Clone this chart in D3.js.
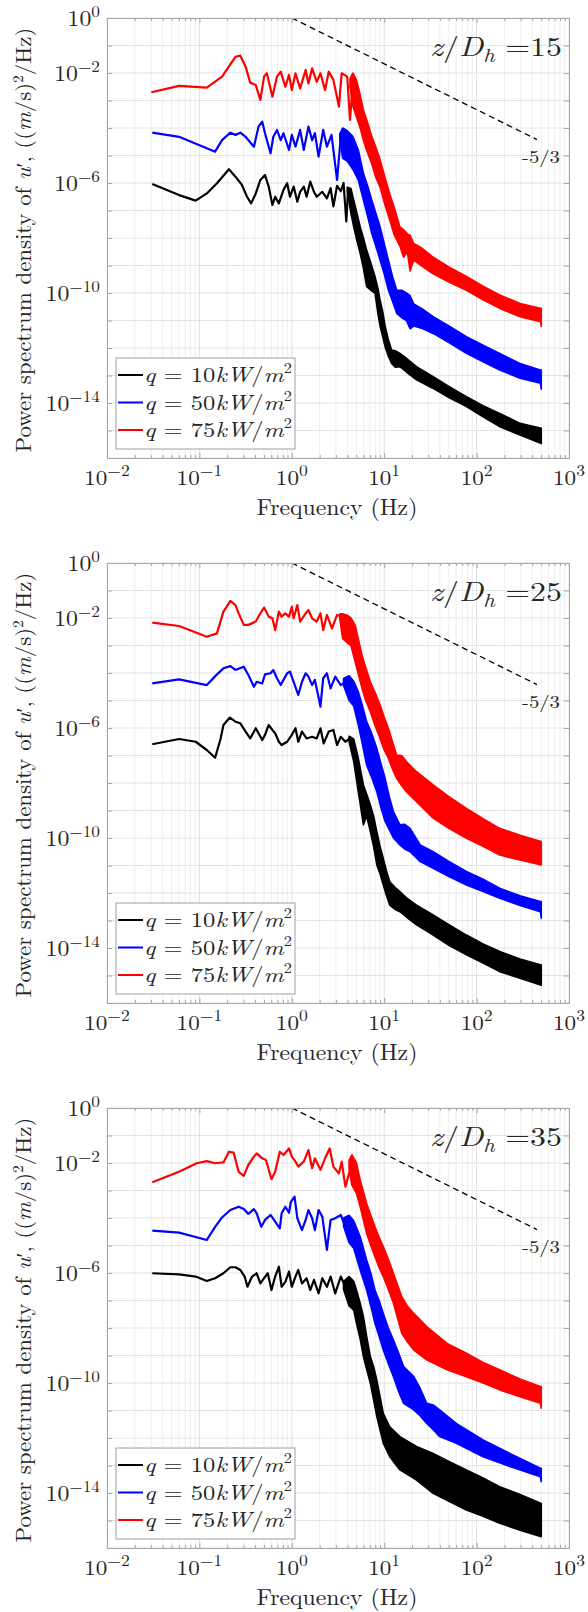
<!DOCTYPE html>
<html><head><meta charset="utf-8">
<script src="https://cdn.jsdelivr.net/npm/d3@7"></script>
<style>
body{margin:0;background:#fff}
text{font-family:"Latin Modern Roman","CMU Serif","Liberation Serif","DejaVu Serif",serif;fill:#262626}
</style>
</head><body>
<svg id="c" width="588" height="1612"></svg>
<script>
// ---- values: [log10 f (Hz), log10 PSD] for the low-frequency lines,
// ---- [log10 f, log10 upper PSD, log10 lower PSD] for the dense high-frequency bands
const xTickExp = [-2, -1, 0, 1, 2, 3];
const yTickExp = [0, -2, -6, -10, -14];
const panelLabels = ["15", "25", "35"];
const seriesLabels = ["10", "50", "75"];
const seriesColors = ["#000000", "#0000ff", "#ff0000"];
const slopeLine = [[1, 1], [450, 3.8e-5]];

// z/Dh = 15
const lineK15 = [[-1.51,-6.04],[-1.22,-6.44],[-1.04,-6.64],[-0.92,-6.38],[-0.81,-6.01],[-0.68,-5.50],[-0.61,-5.77],[-0.54,-6.07],[-0.485,-6.50],[-0.44,-6.74],[-0.39,-6.38],[-0.34,-5.89],[-0.29,-5.71],[-0.25,-6.13],[-0.21,-6.80],[-0.18,-6.50],[-0.14,-6.74],[-0.09,-6.25],[-0.05,-6.01],[-0.02,-6.50],[0.02,-6.13],[0.06,-6.68],[0.09,-6.32],[0.13,-6.13],[0.16,-6.50],[0.20,-5.95],[0.24,-6.32],[0.27,-6.50],[0.33,-6.32],[0.38,-6.56],[0.42,-6.19],[0.45,-6.85],[0.49,-6.1],[0.53,-6.3],[0.56,-6.0],[0.59,-7.4],[0.61,-6.2]];
const bandK15 = [[0.60,-6.15,-6.3],[0.64,-6.2,-7.1],[0.67,-6.62,-7.59],[0.705,-7.1,-8.1],[0.74,-7.59,-8.56],[0.775,-8.0,-9.1],[0.81,-8.44,-9.77],[0.855,-8.9,-9.9],[0.90,-9.4,-10.0],[0.93,-9.8,-10.7],[0.955,-10.25,-11.2],[0.985,-10.7,-11.6],[1.01,-11.2,-11.95],[1.045,-11.7,-12.3],[1.08,-12.07,-12.56],[1.12,-12.1,-12.7],[1.17,-12.2,-12.68],[1.25,-12.4,-12.9],[1.35,-12.68,-13.16],[1.53,-13.04,-13.47],[1.7,-13.4,-13.8],[1.89,-13.77,-14.13],[2.07,-14.1,-14.5],[2.25,-14.38,-14.86],[2.47,-14.74,-15.16],[2.70,-14.92,-15.47]];
const lineB15 = [[-1.51,-4.17],[-1.22,-4.32],[-0.83,-4.86],[-0.755,-4.44],[-0.665,-4.17],[-0.61,-4.25],[-0.557,-4.17],[-0.50,-4.32],[-0.41,-4.68],[-0.36,-3.95],[-0.32,-3.77],[-0.29,-4.19],[-0.23,-4.92],[-0.20,-4.32],[-0.16,-4.07],[-0.12,-4.44],[-0.09,-4.19],[-0.03,-4.80],[0.00,-4.25],[0.04,-4.68],[0.09,-4.07],[0.13,-4.80],[0.18,-3.95],[0.22,-4.44],[0.25,-4.19],[0.29,-5.04],[0.34,-4.07],[0.38,-4.68],[0.43,-4.25],[0.49,-5.89],[0.53,-4.32]];
const bandB15 = [[0.52,-4.2,-4.4],[0.55,-4.0,-5.1],[0.6,-4.1,-5.2],[0.66,-4.3,-5.5],[0.72,-4.8,-5.9],[0.775,-5.65,-6.62],[0.82,-6.1,-7.2],[0.865,-6.62,-7.83],[0.91,-7.1,-8.3],[0.955,-7.59,-8.8],[1.0,-8.2,-9.3],[1.045,-8.8,-9.89],[1.09,-9.4,-10.3],[1.135,-9.89,-10.74],[1.19,-9.9,-10.9],[1.24,-10.0,-11.0],[1.28,-10.1,-11.3],[1.32,-10.4,-11.2],[1.42,-10.6,-11.3],[1.53,-10.86,-11.47],[1.7,-11.2,-11.8],[1.89,-11.59,-12.19],[2.07,-11.9,-12.5],[2.25,-12.2,-12.8],[2.47,-12.56,-13.1],[2.69,-12.8,-13.28],[2.70,-12.8,-13.5]];
const lineR15 = [[-1.52,-2.70],[-1.22,-2.47],[-0.92,-2.53],[-0.755,-2.13],[-0.61,-1.41],[-0.557,-1.37],[-0.50,-1.77],[-0.45,-2.35],[-0.39,-2.44],[-0.34,-2.98],[-0.30,-2.13],[-0.27,-2.01],[-0.21,-2.86],[-0.16,-2.13],[-0.12,-1.95],[-0.07,-2.50],[-0.03,-2.07],[0.00,-2.62],[0.04,-2.01],[0.09,-2.56],[0.15,-1.89],[0.18,-2.38],[0.22,-1.83],[0.27,-2.32],[0.31,-2.01],[0.36,-2.62],[0.40,-1.95],[0.45,-2.25],[0.51,-3.22],[0.54,-2.01],[0.60,-2.13],[0.63,-3.71],[0.66,-2.38]];
const bandR15 = [[0.63,-2.2,-2.5],[0.66,-2.0,-3.2],[0.70,-2.25,-3.6],[0.74,-2.8,-4.0],[0.775,-3.35,-4.45],[0.82,-3.8,-4.9],[0.865,-4.3,-5.3],[0.91,-4.7,-5.8],[0.955,-5.15,-6.15],[1.0,-5.7,-6.7],[1.06,-6.4,-7.35],[1.11,-6.9,-7.9],[1.17,-7.6,-8.3],[1.21,-7.7,-8.7],[1.25,-7.85,-8.5],[1.28,-7.9,-9.2],[1.32,-8.2,-8.8],[1.4,-8.35,-9.0],[1.53,-8.7,-9.3],[1.7,-9.05,-9.6],[1.89,-9.4,-9.9],[2.07,-9.75,-10.25],[2.25,-10.07,-10.56],[2.47,-10.38,-10.86],[2.69,-10.56,-11.04],[2.70,-10.56,-11.22]];

// z/Dh = 25
const lineK25 = [[-1.51,-6.59],[-1.22,-6.40],[-1.04,-6.50],[-0.92,-6.80],[-0.83,-7.08],[-0.77,-6.38],[-0.74,-5.89],[-0.67,-5.62],[-0.61,-5.77],[-0.557,-5.83],[-0.50,-6.13],[-0.45,-6.38],[-0.39,-6.01],[-0.36,-6.19],[-0.32,-6.44],[-0.29,-6.25],[-0.25,-5.89],[-0.21,-6.07],[-0.18,-6.19],[-0.14,-6.50],[-0.11,-6.62],[-0.05,-6.50],[0.00,-6.25],[0.04,-6.01],[0.07,-6.50],[0.11,-6.13],[0.16,-6.38],[0.22,-6.32],[0.27,-6.38],[0.31,-6.01],[0.345,-6.56],[0.40,-6.13],[0.45,-6.07],[0.49,-6.62],[0.53,-6.32],[0.58,-6.50],[0.63,-6.38]];
const bandK25 = [[0.62,-6.3,-6.5],[0.67,-6.4,-7.22],[0.72,-7.1,-8.32],[0.775,-8.07,-9.52],[0.81,-8.4,-9.2],[0.85,-8.8,-9.77],[0.885,-9.2,-10.3],[0.92,-9.77,-10.98],[0.955,-10.3,-11.3],[0.99,-10.74,-11.71],[1.025,-11.2,-12.1],[1.06,-11.59,-12.44],[1.12,-11.8,-12.6],[1.17,-11.95,-12.68],[1.25,-12.2,-12.9],[1.35,-12.44,-13.16],[1.53,-12.8,-13.53],[1.7,-13.15,-13.9],[1.89,-13.53,-14.25],[2.07,-13.85,-14.55],[2.25,-14.13,-14.86],[2.47,-14.4,-15.1],[2.70,-14.62,-15.35]];
const lineB25 = [[-1.51,-4.38],[-1.22,-4.23],[-0.92,-4.44],[-0.81,-4.05],[-0.74,-3.83],[-0.665,-3.75],[-0.61,-3.89],[-0.52,-3.77],[-0.47,-4.07],[-0.41,-4.50],[-0.38,-4.32],[-0.32,-4.38],[-0.29,-4.05],[-0.23,-4.01],[-0.20,-3.89],[-0.16,-4.19],[-0.12,-4.44],[-0.09,-4.25],[-0.05,-4.01],[-0.02,-3.95],[0.02,-4.32],[0.07,-4.80],[0.11,-4.32],[0.15,-4.01],[0.18,-4.13],[0.22,-4.44],[0.25,-4.25],[0.31,-5.22],[0.34,-4.19],[0.38,-4.01],[0.42,-4.56],[0.47,-4.13],[0.53,-4.44],[0.58,-4.32]];
const bandB25 = [[0.56,-4.2,-4.45],[0.62,-4.1,-5.0],[0.67,-4.3,-5.2],[0.72,-4.68,-5.89],[0.765,-5.2,-6.6],[0.81,-5.77,-7.35],[0.865,-6.2,-7.8],[0.92,-6.74,-8.32],[0.965,-7.3,-8.9],[1.01,-7.83,-9.4],[1.055,-8.5,-9.7],[1.10,-9.04,-10.0],[1.17,-9.52,-10.25],[1.22,-9.5,-10.4],[1.28,-9.65,-10.5],[1.39,-10.25,-10.86],[1.53,-10.5,-11.1],[1.7,-10.85,-11.4],[1.89,-11.22,-11.71],[2.07,-11.5,-11.95],[2.25,-11.83,-12.19],[2.47,-12.1,-12.45],[2.69,-12.31,-12.68],[2.70,-12.31,-12.92]];
const lineR25 = [[-1.51,-2.17],[-1.22,-2.29],[-0.92,-2.68],[-0.81,-2.56],[-0.74,-1.77],[-0.665,-1.38],[-0.61,-1.53],[-0.575,-1.83],[-0.52,-2.25],[-0.47,-2.25],[-0.39,-2.13],[-0.34,-1.83],[-0.30,-1.62],[-0.25,-1.95],[-0.21,-2.01],[-0.18,-2.44],[-0.14,-1.77],[-0.11,-1.95],[-0.07,-1.83],[-0.03,-1.95],[0.00,-1.59],[0.02,-2.01],[0.06,-1.53],[0.09,-2.13],[0.15,-1.83],[0.18,-1.71],[0.22,-2.01],[0.27,-2.13],[0.31,-1.83],[0.34,-2.44],[0.38,-1.89],[0.435,-2.38],[0.49,-1.89],[0.54,-1.95]];
const bandR25 = [[0.52,-1.85,-2.05],[0.55,-1.85,-2.75],[0.60,-1.9,-2.9],[0.64,-2.0,-3.0],[0.685,-2.25,-3.59],[0.76,-3.35,-4.56],[0.80,-3.8,-5.0],[0.85,-4.32,-5.41],[0.90,-4.7,-5.9],[0.955,-5.16,-6.38],[1.0,-5.6,-6.8],[1.045,-6.01,-7.1],[1.09,-6.5,-7.5],[1.135,-6.98,-7.83],[1.19,-7.0,-8.1],[1.24,-7.22,-8.32],[1.35,-7.59,-8.68],[1.53,-8.07,-9.28],[1.7,-8.5,-9.65],[1.89,-8.92,-10.01],[2.07,-9.3,-10.3],[2.25,-9.65,-10.62],[2.47,-9.9,-10.8],[2.70,-10.13,-10.98]];

// z/Dh = 35
const lineK35 = [[-1.51,-6.01],[-1.22,-6.05],[-1.04,-6.13],[-0.92,-6.29],[-0.83,-6.19],[-0.74,-6.01],[-0.665,-5.79],[-0.61,-5.79],[-0.557,-5.89],[-0.51,-6.13],[-0.48,-6.50],[-0.43,-6.13],[-0.38,-6.01],[-0.34,-6.38],[-0.30,-6.19],[-0.26,-6.01],[-0.22,-6.62],[-0.18,-6.13],[-0.14,-5.77],[-0.11,-6.50],[-0.07,-6.32],[-0.03,-5.95],[0.00,-6.50],[0.04,-6.13],[0.07,-5.89],[0.11,-6.38],[0.16,-6.19],[0.20,-6.62],[0.24,-6.25],[0.29,-6.74],[0.33,-6.19],[0.38,-6.50],[0.42,-6.13],[0.47,-6.74],[0.53,-6.13],[0.58,-6.50]];
const bandK35 = [[0.56,-6.3,-6.6],[0.62,-6.13,-7.2],[0.67,-6.3,-7.35],[0.70,-6.62,-7.83],[0.74,-7.1,-8.4],[0.775,-7.59,-9.04],[0.81,-8.3,-9.5],[0.85,-9.04,-10.01],[0.885,-9.4,-10.6],[0.92,-9.89,-11.22],[0.955,-10.5,-11.7],[0.99,-11.1,-12.19],[1.06,-11.59,-12.68],[1.17,-11.95,-13.16],[1.35,-12.31,-13.53],[1.53,-12.56,-14.01],[1.7,-12.85,-14.3],[1.89,-13.16,-14.62],[2.07,-13.45,-14.85],[2.25,-13.77,-15.1],[2.47,-14.05,-15.35],[2.70,-14.38,-15.59]];
const lineB35 = [[-1.51,-4.46],[-1.22,-4.53],[-0.92,-4.80],[-0.83,-4.32],[-0.755,-3.98],[-0.665,-3.71],[-0.575,-3.59],[-0.52,-3.67],[-0.47,-3.85],[-0.41,-3.68],[-0.38,-3.83],[-0.33,-4.32],[-0.29,-4.07],[-0.23,-3.89],[-0.18,-4.13],[-0.13,-4.38],[-0.11,-3.83],[-0.07,-3.59],[-0.03,-3.81],[-0.01,-3.41],[0.03,-3.22],[0.06,-4.01],[0.11,-4.44],[0.15,-4.07],[0.18,-3.71],[0.22,-4.01],[0.25,-4.44],[0.29,-3.71],[0.33,-3.95],[0.38,-5.16],[0.42,-4.07],[0.47,-4.01],[0.53,-3.89],[0.58,-4.32]];
const bandB35 = [[0.56,-4.0,-4.3],[0.62,-3.9,-4.9],[0.67,-4.1,-5.1],[0.74,-4.68,-5.89],[0.81,-5.53,-6.62],[0.855,-6.0,-7.2],[0.90,-6.62,-7.83],[0.945,-7.0,-8.3],[0.99,-7.47,-8.8],[1.045,-8.0,-9.3],[1.10,-8.44,-9.77],[1.155,-8.9,-10.3],[1.21,-9.4,-10.74],[1.32,-9.77,-10.98],[1.39,-10.2,-11.2],[1.46,-10.74,-11.47],[1.53,-10.8,-11.7],[1.60,-10.98,-11.95],[1.78,-11.47,-12.19],[2.07,-12.07,-12.68],[2.36,-12.56,-13.04],[2.69,-13.1,-13.41],[2.70,-13.1,-13.59]];
const lineR35 = [[-1.51,-2.70],[-1.22,-2.32],[-1.03,-2.01],[-0.92,-1.93],[-0.83,-2.01],[-0.74,-1.98],[-0.68,-1.59],[-0.63,-1.62],[-0.575,-2.32],[-0.52,-2.47],[-0.47,-2.07],[-0.41,-1.77],[-0.38,-1.65],[-0.32,-1.83],[-0.28,-1.89],[-0.22,-2.59],[-0.18,-2.32],[-0.13,-1.59],[-0.09,-1.71],[-0.03,-1.47],[0.00,-1.77],[0.04,-1.95],[0.07,-2.13],[0.13,-1.95],[0.18,-1.53],[0.22,-2.19],[0.25,-1.83],[0.31,-2.25],[0.36,-1.83],[0.41,-1.47],[0.45,-2.13],[0.51,-2.38],[0.54,-1.95],[0.58,-2.86],[0.65,-2.01]];
const bandR35 = [[0.62,-1.9,-2.2],[0.65,-1.7,-2.8],[0.70,-2.0,-3.1],[0.74,-2.62,-3.59],[0.81,-3.47,-4.56],[0.855,-3.9,-5.0],[0.90,-4.32,-5.41],[0.945,-4.7,-5.8],[0.99,-5.04,-6.13],[1.045,-5.5,-6.6],[1.10,-6.01,-7.1],[1.19,-6.86,-8.19],[1.25,-7.2,-8.5],[1.32,-7.47,-8.8],[1.46,-7.95,-9.16],[1.68,-8.56,-9.52],[1.89,-8.92,-9.77],[2.07,-9.25,-10.0],[2.25,-9.52,-10.25],[2.47,-9.85,-10.5],[2.69,-10.13,-10.74],[2.70,-10.13,-10.92]];

const panels = [
  {label: panelLabels[0], lines: [lineK15, lineB15, lineR15], bands: [bandK15, bandB15, bandR15]},
  {label: panelLabels[1], lines: [lineK25, lineB25, lineR25], bands: [bandK25, bandB25, bandR25]},
  {label: panelLabels[2], lines: [lineK35, lineB35, lineR35], bands: [bandK35, bandB35, bandR35]}
];

// ---- layout
const L = 107, PW = 462, PH = 440;
const tops = [18, 563, 1108];
const axisColor = "#a6a6a6";
const svg = d3.select("#c");

// text at (x,y); afterwards widened/narrowed horizontally to a target width (mimics the LaTeX face)
const stext = (sel, x, y, rot) => sel.append("text")
  .attr("data-x", x).attr("data-y", y).attr("data-r", rot || 0)
  .attr("transform", `translate(${x},${y})${rot ? " rotate(" + rot + ")" : ""}`);
const fit = (t, target) => {
  const w = t.node().getBBox().width;
  const sx = w > 0 ? target / w : 1;
  const x = t.attr("data-x"), y = t.attr("data-y"), r = +t.attr("data-r");
  t.attr("transform", `translate(${x},${y})${r ? " rotate(" + r + ")" : ""} scale(${sx},1)`);
};
const fixed = (t, sx) => {
  const x = t.attr("data-x"), y = t.attr("data-y");
  t.attr("transform", `translate(${x},${y}) scale(${sx},1)`);
};

panels.forEach((p, i) => {
  const g = svg.append("g").attr("transform", `translate(${L},${tops[i]})`);
  const x = d3.scaleLog().domain([1e-2, 1e3]).range([0, PW]);
  const y = d3.scaleLog().domain([1e-16, 1]).range([PH, 0]);

  const xMajor = xTickExp.map(e => 10 ** e);
  const xMinor = [];
  xTickExp.slice(0, -1).forEach(e => { for (let k = 2; k <= 9; k++) xMinor.push(k * 10 ** e); });
  const yAll = d3.range(-16, 1).map(e => 10 ** e);

  // grid
  const grid = g.append("g");
  grid.selectAll(".xm").data(xMinor).join("line")
    .attr("x1", d => x(d)).attr("x2", d => x(d)).attr("y1", 0).attr("y2", PH)
    .attr("stroke", "#eeeeee").attr("stroke-width", 1);
  grid.selectAll(".yg").data(yAll).join("line")
    .attr("x1", 0).attr("x2", PW).attr("y1", d => y(d)).attr("y2", d => y(d))
    .attr("stroke", "#e4e4e4").attr("stroke-width", 1);
  grid.selectAll(".xg").data(xMajor).join("line")
    .attr("x1", d => x(d)).attr("x2", d => x(d)).attr("y1", 0).attr("y2", PH)
    .attr("stroke", "#e0e0e0").attr("stroke-width", 1);

  // clip
  const cid = "clip" + i;
  g.append("clipPath").attr("id", cid).append("rect").attr("width", PW).attr("height", PH);
  const plot = g.append("g").attr("clip-path", `url(#${cid})`);

  const line = d3.line().x(d => x(10 ** d[0])).y(d => y(10 ** d[1]));
  const area = d3.area().x(d => x(10 ** d[0])).y0(d => y(10 ** d[2])).y1(d => y(10 ** d[1]));

  [0, 1, 2].forEach(s => {
    plot.append("path").datum(p.bands[s]).attr("d", area)
      .attr("fill", seriesColors[s]).attr("stroke", seriesColors[s]).attr("stroke-width", 1.6)
      .attr("stroke-linejoin", "round");
    plot.append("path").datum(p.lines[s]).attr("d", line)
      .attr("fill", "none").attr("stroke", seriesColors[s]).attr("stroke-width", 2.2)
      .attr("stroke-linejoin", "round");
  });

  // -5/3 slope line
  plot.append("path").datum(slopeLine)
    .attr("d", d3.line().x(d => x(d[0])).y(d => y(d[1])))
    .attr("fill", "none").attr("stroke", "#000").attr("stroke-width", 1.3).attr("stroke-dasharray", "6,4");

  // axes ticks (inner)
  const mk = (axisFn, scale, vals, size) => axisFn(scale).tickValues(vals).tickSizeInner(-size).tickSizeOuter(0).tickFormat(() => "");
  const addAxis = (ax, tr) => {
    const a = g.append("g").attr("transform", tr).call(ax);
    a.select(".domain").attr("stroke", axisColor);
    a.selectAll(".tick line").attr("stroke", axisColor);
  };
  addAxis(mk(d3.axisBottom, x, xMajor, 5), `translate(0,${PH})`);
  addAxis(mk(d3.axisBottom, x, xMinor, 3), `translate(0,${PH})`);
  addAxis(mk(d3.axisTop, x, xMajor, 5), `translate(0,0)`);
  addAxis(mk(d3.axisTop, x, xMinor, 3), `translate(0,0)`);
  addAxis(mk(d3.axisLeft, y, yAll, 5), `translate(0,0)`);
  addAxis(mk(d3.axisRight, y, yAll, 5), `translate(${PW},0)`);

  // x tick labels
  xTickExp.forEach(e => {
    const t = stext(g, x(10 ** e), PH + 27).attr("text-anchor", "middle").attr("font-size", 21);
    t.append("tspan").text("10");
    t.append("tspan").attr("dy", -9).attr("font-size", 16).text(e < 0 ? "\u2212" + (-e) : String(e));
    fixed(t, 1.1);
  });
  // y tick labels
  yTickExp.forEach(e => {
    const t = stext(g, -7, y(10 ** e) + 8).attr("text-anchor", "end").attr("font-size", 22);
    t.append("tspan").text("10");
    t.append("tspan").attr("dy", -9).attr("font-size", 16).text(e < 0 ? "\u2212" + (-e) : String(e));
    fixed(t, 1.08);
  });

  // axis titles
  const xl = stext(g, PW / 2 - 1, PH + 57).attr("text-anchor", "middle")
    .attr("font-size", 23).text("Frequency (Hz)");
  fit(xl, 161);
  const yl = stext(g, -L + 31, PH / 2 + 2, -90).attr("text-anchor", "middle").attr("font-size", 22);
  yl.append("tspan").text("Power spectrum density of ");
  yl.append("tspan").attr("font-style", "italic").text("u");
  yl.append("tspan").text("\u2032, ((");
  yl.append("tspan").attr("font-style", "italic").text("m");
  yl.append("tspan").text("/s)");
  yl.append("tspan").attr("dy", -8).attr("font-size", 15).text("2");
  yl.append("tspan").attr("dy", 8).text("/Hz)");
  fit(yl, 425);

  // panel label
  const tl = stext(g, PW - 7, 38).attr("text-anchor", "end").attr("font-size", 27);
  tl.append("tspan").attr("font-style", "italic").text("z");
  tl.append("tspan").text("/");
  tl.append("tspan").attr("font-style", "italic").text("D");
  tl.append("tspan").attr("font-style", "italic").attr("font-size", 19).attr("dy", 6).text("h");
  tl.append("tspan").attr("dy", -6).text(" =" + p.label);
  fit(tl, 132);

  // slope label
  const sl = stext(g, 415, 145).attr("font-size", 17).text("-5/3");
  fit(sl, 38);

  // legend
  const lg = g.append("g");
  lg.append("rect").attr("x", 9).attr("y", 340).attr("width", 179).attr("height", 91)
    .attr("fill", "#fff").attr("stroke", "#a0a0a0").attr("stroke-width", 1);
  seriesLabels.forEach((lab, s) => {
    const yy = 357 + s * 27.5;
    lg.append("line").attr("x1", 11).attr("x2", 36).attr("y1", yy).attr("y2", yy)
      .attr("stroke", seriesColors[s]).attr("stroke-width", 2);
    const t = stext(lg, 37, yy + 7).attr("font-size", 21);
    t.append("tspan").attr("font-style", "italic").text("q");
    t.append("tspan").text(" = " + lab);
    t.append("tspan").attr("font-style", "italic").text("kW");
    t.append("tspan").text("/");
    t.append("tspan").attr("font-style", "italic").text("m");
    t.append("tspan").attr("dy", -9).attr("font-size", 14).text("2");
    fit(t, 148);
  });
});
</script>
</body></html>
